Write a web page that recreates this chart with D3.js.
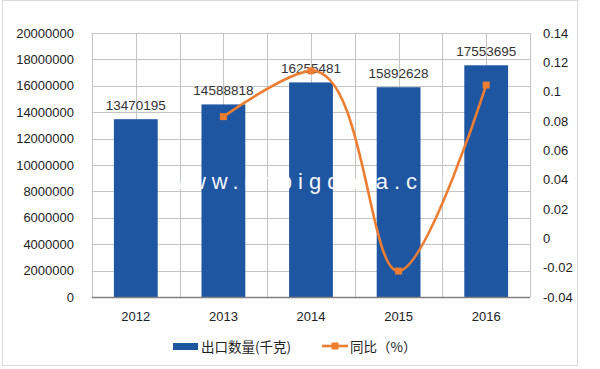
<!DOCTYPE html>
<html><head><meta charset="utf-8">
<script src="https://cdn.jsdelivr.net/npm/d3@7"></script>
<style>
body{margin:0;background:#fff;}
svg{display:block;}
</style></head>
<body>
<svg id="c" width="600" height="369"></svg>
<script>
const categories = ["2012","2013","2014","2015","2016"];
const exportQty = [13470195,14588818,16255481,15892628,17553695];
const yoy = [null,0.0830,0.1142,-0.0223,0.1045];
const leftTicks = [0,2000000,4000000,6000000,8000000,10000000,12000000,14000000,16000000,18000000,20000000];
const rightTicks = [-0.04,-0.02,0,0.02,0.04,0.06,0.08,0.1,0.12,0.14];
const seriesNames = ["出口数量(千克)","同比（%）"];

const svg = d3.select("#c");
const L = 92, R = 530, T = 33, B = 297;
const barColor = "#1F56A2", lineColor = "#ED7D31", gridColor = "#C4C4C4";
const numFont = "'Liberation Sans', Arial, sans-serif";
const cjkFont = "'Noto Sans CJK SC', sans-serif";

// outer border
svg.append("rect").attr("x",2.5).attr("y",0.5).attr("width",575).attr("height",365)
  .attr("fill","#fff").attr("stroke","#d9d9d9");

const x = d3.scaleBand().domain(categories).range([L,R]).padding(0);
const yL = d3.scaleLinear().domain([0,20000000]).range([B,T]);
const yR = d3.scaleLinear().domain([-0.04,0.14]).range([B,T]);

// gridlines
const g = svg.append("g");
leftTicks.forEach(t=>{
  g.append("line").attr("x1",L).attr("x2",R).attr("y1",Math.round(yL(t))+0.5).attr("y2",Math.round(yL(t))+0.5)
   .attr("stroke",gridColor).attr("stroke-width",1);
});
const vlines = [];
categories.forEach(c=>{vlines.push(x(c)); vlines.push(x(c)+x.bandwidth()/2);});
vlines.push(R);
vlines.forEach(v=>{
  g.append("line").attr("x1",Math.round(v)+0.5).attr("x2",Math.round(v)+0.5).attr("y1",T).attr("y2",B)
   .attr("stroke",gridColor).attr("stroke-width",1);
});

// bars
const bw = x.bandwidth()*0.5;
svg.append("g").selectAll("rect").data(exportQty).join("rect")
  .attr("x",(d,i)=>x(categories[i])+x.bandwidth()/2-bw/2)
  .attr("width",bw)
  .attr("y",d=>yL(d)).attr("height",d=>B-yL(d))
  .attr("fill",barColor);

// bottom axis line
svg.append("line").attr("x1",L).attr("x2",R).attr("y1",B+0.5).attr("y2",B+0.5).attr("stroke","#7f7f7f").attr("stroke-width",1.3);

// watermark
svg.append("text").attr("x",168).attr("y",189).text("www.cnbigdata.com")
  .attr("font-family",numFont).attr("font-size",22)
  .attr("letter-spacing",6).attr("fill","#fff").attr("opacity",0.95);

// bar labels
svg.append("g").selectAll("text").data(exportQty).join("text")
  .attr("x",(d,i)=>x(categories[i])+x.bandwidth()/2)
  .attr("y",d=>yL(d)-9)
  .attr("text-anchor","middle").attr("font-family",numFont).attr("font-size",13.5).attr("fill","#333")
  .text(d=>d);

// line
const pts = yoy.map((v,i)=>v===null?null:[x(categories[i])+x.bandwidth()/2, yR(v)]).filter(p=>p);
svg.append("path").attr("d",d3.line().curve(d3.curveCatmullRom.alpha(1))(pts))
  .attr("fill","none").attr("stroke",lineColor).attr("stroke-width",2.6);
svg.append("g").selectAll("rect").data(pts).join("rect")
  .attr("x",d=>d[0]-3.5).attr("y",d=>d[1]-3.5).attr("width",7).attr("height",7).attr("fill",lineColor);

// left axis
const axL = svg.append("g").attr("transform",`translate(${L},0)`)
  .call(d3.axisLeft(yL).tickValues(leftTicks).tickFormat(d=>String(d)).tickSize(0).tickPadding(18));
axL.select(".domain").remove();
axL.selectAll("text").attr("font-family",numFont).attr("font-size",13).attr("fill","#222");

// right axis
const axR = svg.append("g").attr("transform",`translate(${R},0)`)
  .call(d3.axisRight(yR).tickValues(rightTicks).tickFormat(d=>String(+d.toFixed(2))).tickSize(0).tickPadding(13));
axR.select(".domain").remove();
axR.selectAll("text").attr("font-family",numFont).attr("font-size",13).attr("fill","#222");

// bottom axis
const axB = svg.append("g").attr("transform",`translate(0,${B})`)
  .call(d3.axisBottom(x).tickSize(0).tickPadding(15));
axB.select(".domain").remove();
axB.selectAll("text").attr("font-family",numFont).attr("font-size",13).attr("fill","#222");

// legend
const lg = svg.append("g");
lg.append("rect").attr("x",173).attr("y",343).attr("width",25).attr("height",7).attr("fill",barColor);
lg.append("text").attr("x",201).attr("y",351.5).text(seriesNames[0])
  .attr("font-family",cjkFont).attr("font-size",13.5).attr("fill","#222");
lg.append("line").attr("x1",322).attr("x2",348).attr("y1",346).attr("y2",346).attr("stroke",lineColor).attr("stroke-width",2.6);
lg.append("rect").attr("x",331.5).attr("y",342.5).attr("width",7).attr("height",7).attr("fill",lineColor);
lg.append("text").attr("x",350).attr("y",351.5).text(seriesNames[1])
  .attr("font-family",cjkFont).attr("font-size",13.5).attr("fill","#222");
</script>
</body></html>
